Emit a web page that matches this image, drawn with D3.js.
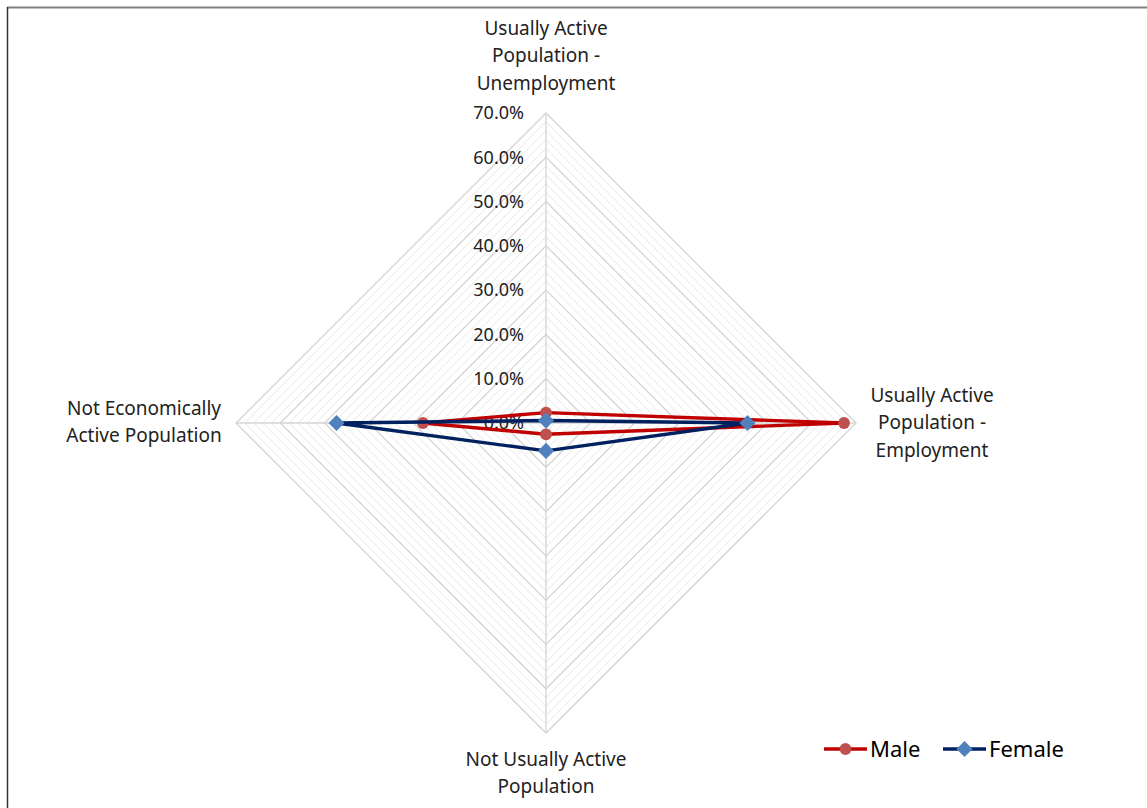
<!DOCTYPE html>
<html>
<head>
<meta charset="utf-8">
<script src="https://cdn.jsdelivr.net/npm/d3@7"></script>
<style>
  html, body { margin: 0; padding: 0; background: #fff; }
  svg text { font-family: "Noto Sans", Lato, sans-serif; }
</style>
</head>
<body>
<svg id="chart" width="1147" height="808"></svg>
<script>
const categories = [
  ["Usually Active", "Population -", "Unemployment"],
  ["Usually Active", "Population -", "Employment"],
  ["Not Usually Active", "Population"],
  ["Not Economically", "Active Population"]
];
const seriesNames = ["Male", "Female"];
const maleValues = [0.0235, 0.673, 0.0255, 0.278];
const femaleValues = [0.0055, 0.455, 0.063, 0.473];
const tickValues = [0, 0.1, 0.2, 0.3, 0.4, 0.5, 0.6, 0.7];
const minorValues = d3.range(0.02, 0.7001, 0.02).filter(v => Math.abs(v * 10 - Math.round(v * 10)) > 1e-6);

const svg = d3.select("#chart");
const cx = 546, cy = 423, R = 310;
const r = d3.scaleLinear().domain([0, 0.7]).range([0, R]);
const angle = i => -Math.PI / 2 + i * Math.PI / 2;
const pt = (v, i) => [cx + r(v) * Math.cos(angle(i)), cy + r(v) * Math.sin(angle(i))];
const fmt = d3.format(".1%");

// frame
svg.append("line").attr("x1", 7).attr("x2", 1147).attr("y1", 7.5).attr("y2", 7.5)
  .attr("stroke", "#808080").attr("stroke-width", 2);
svg.append("line").attr("x1", 7.5).attr("x2", 7.5).attr("y1", 7).attr("y2", 808)
  .attr("stroke", "#333").attr("stroke-width", 1.5);

const polyLine = d3.line().curve(d3.curveLinearClosed);
const ring = v => polyLine(categories.map((c, i) => pt(v, i)));

// minor grid
svg.append("g").selectAll("path").data(minorValues).join("path")
  .attr("d", d => ring(d)).attr("fill", "none").attr("stroke", "#e6e6e6").attr("stroke-width", 1);
// major grid
svg.append("g").selectAll("path").data(tickValues.slice(1)).join("path")
  .attr("d", d => ring(d)).attr("fill", "none").attr("stroke", "#d4d4d4").attr("stroke-width", 1.3);
// spokes
svg.append("g").selectAll("line").data(categories).join("line")
  .attr("x1", cx).attr("y1", cy)
  .attr("x2", (d, i) => pt(0.7, i)[0]).attr("y2", (d, i) => pt(0.7, i)[1])
  .attr("stroke", "#d4d4d4").attr("stroke-width", 1.3);

// tick labels
svg.append("g").selectAll("text").data(tickValues).join("text")
  .attr("x", 524).attr("y", d => cy - r(d)).attr("dy", "0.35em")
  .attr("text-anchor", "end").attr("font-size", 18).attr("fill", "#222")
  .text(d => fmt(d));

// category labels
const labelPos = [
  { x: 546, y: 28 },
  { x: 932, y: 395 },
  { x: 546, y: 759 },
  { x: 144, y: 408 }
];
categories.forEach((lines, i) => {
  const t = svg.append("text").attr("text-anchor", "middle").attr("font-size", 19).attr("fill", "#222");
  lines.forEach((s, j) => {
    t.append("tspan").attr("x", labelPos[i].x).attr("y", labelPos[i].y + j * 27.5).attr("dy", "0.35em").text(s);
  });
});

// series
const series = [
  { name: "Male", values: maleValues, line: "#c00000", marker: "#c0504d", shape: d3.symbolCircle, size: 110, rot: 0 },
  { name: "Female", values: femaleValues, line: "#002060", marker: "#4f81bd", shape: d3.symbolSquare, size: 130, rot: 45 }
];
series.forEach(s => {
  const pts = s.values.map((v, i) => pt(v, i));
  svg.append("path").attr("d", polyLine(pts)).attr("fill", "none")
    .attr("stroke", s.line).attr("stroke-width", 3.4).attr("stroke-linejoin", "round");
  svg.append("g").selectAll("path").data(pts).join("path")
    .attr("transform", d => `translate(${d[0]},${d[1]}) rotate(${s.rot})`)
    .attr("d", d3.symbol().type(s.shape).size(s.size)).attr("fill", s.marker);
});

// legend
const legendX = [824, 943];
series.forEach((s, i) => {
  const g = svg.append("g").attr("transform", `translate(${legendX[i]},749)`);
  g.append("line").attr("x1", 0).attr("x2", 43).attr("stroke", s.line).attr("stroke-width", 3.4);
  g.append("path").attr("transform", `translate(21.5,0) rotate(${s.rot})`)
    .attr("d", d3.symbol().type(s.shape).size(s.size)).attr("fill", s.marker);
  g.append("text").attr("x", 46).attr("dy", "0.35em").attr("font-size", 22).attr("fill", "#000").text(s.name);
});
</script>
</body>
</html>
